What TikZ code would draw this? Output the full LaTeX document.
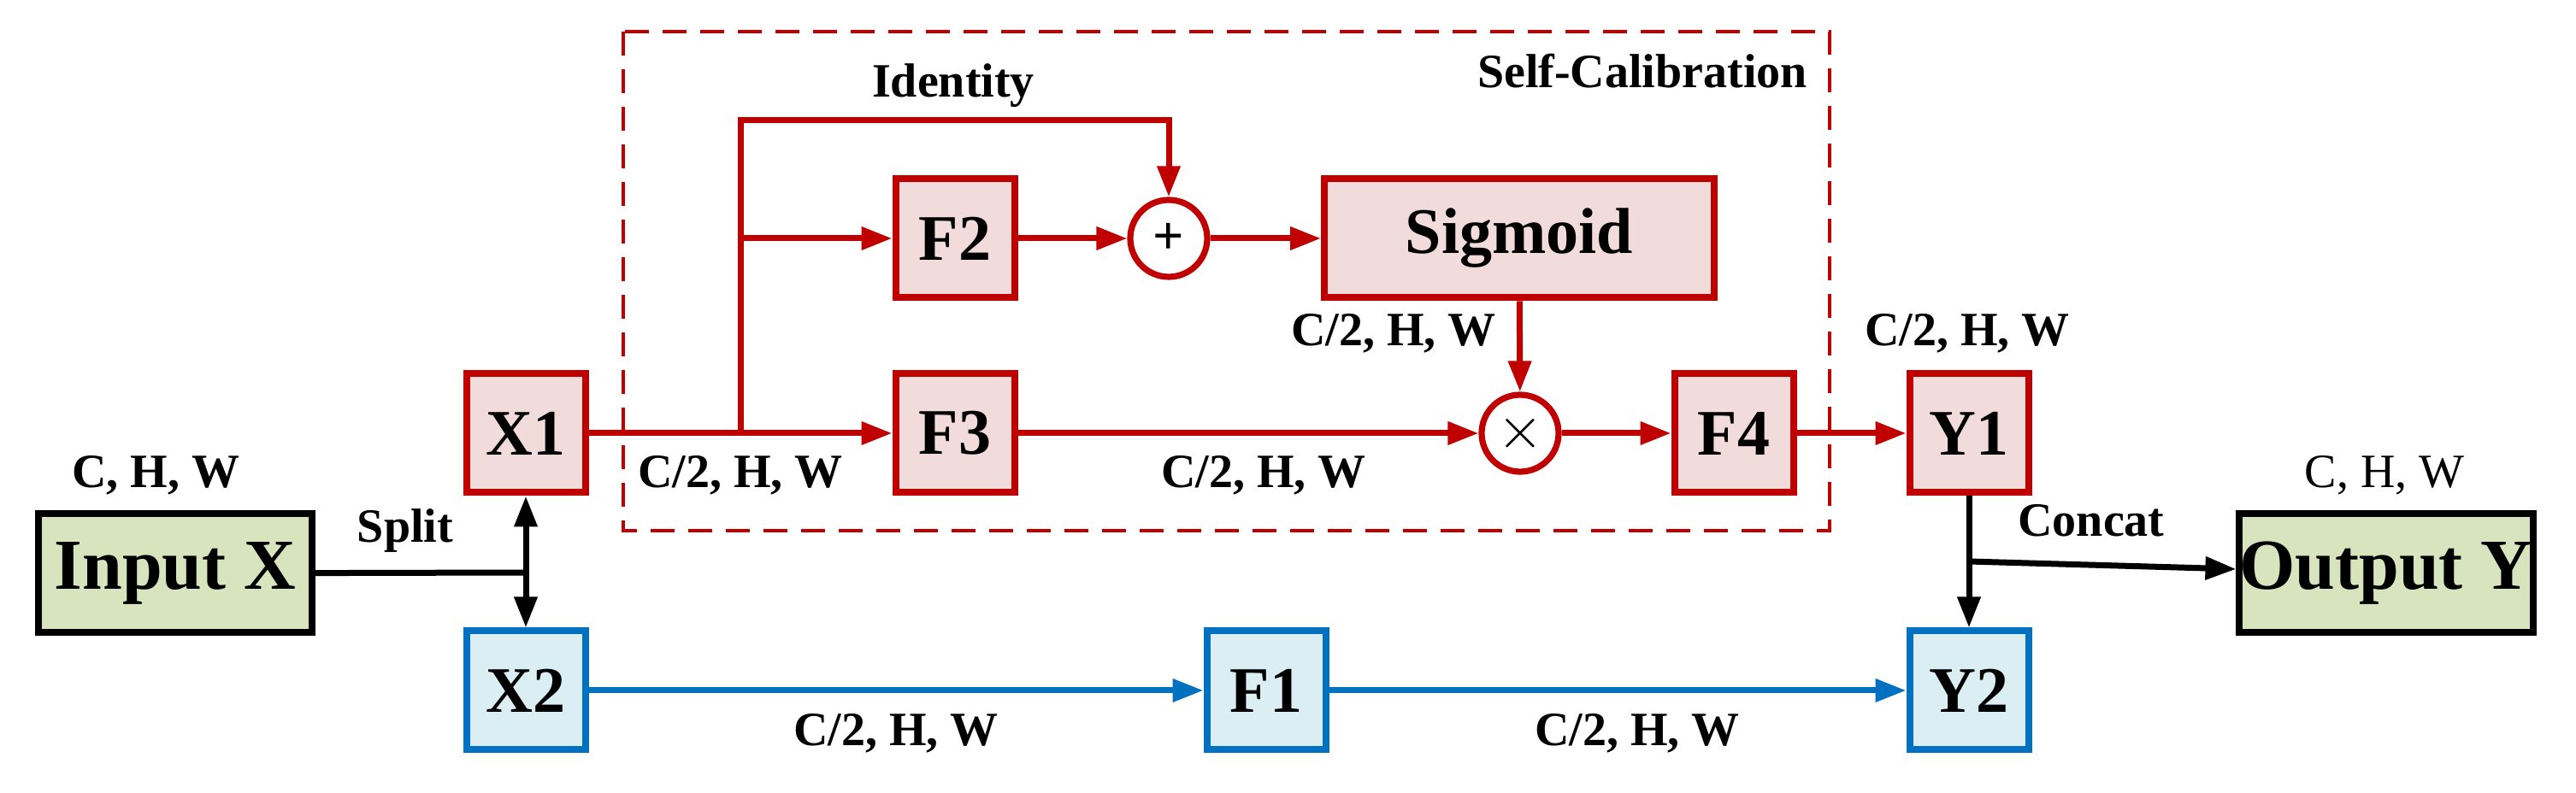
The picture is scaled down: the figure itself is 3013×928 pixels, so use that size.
\documentclass[tikz,border=0pt]{standalone}
\usepackage{fontspec}
\setmainfont{Liberation Serif}
\usetikzlibrary{arrows.meta}
\begin{document}
\begin{tikzpicture}[x=0.25pt, y=-0.25pt,
    box/.style={draw, line width=2pt, minimum width=34.75pt, minimum height=34.75pt, inner sep=0pt, font=\fontsize{19}{19}\selectfont\bfseries},
    redbox/.style={box, draw=cred, fill=cpink},
    bluebox/.style={box, draw=cblue, fill=clblue},
    greenbox/.style={box, draw=black, fill=cgreen, minimum width=80pt, font=\fontsize{21}{21}\selectfont\bfseries},
    op/.style={circle, draw=cred, fill=white, line width=1.8pt, minimum size=22.5pt, inner sep=0pt, font=\fontsize{16}{16}\selectfont\bfseries},
    lbl/.style={font=\fontsize{14}{14}\selectfont\bfseries},
    arr/.style={line width=1.75pt, -{Triangle[length=9pt,width=6.5pt]}},
    ln/.style={line width=1.75pt}]
    % Paleta de cores
    \definecolor{cred}{HTML}{C00000}
    \definecolor{cpink}{HTML}{F2DCDB}
    \definecolor{cblue}{HTML}{0070C0}
    \definecolor{clblue}{HTML}{DAEEF3}
    \definecolor{cgreen}{HTML}{D7E4BD}

    \useasboundingbox (0,0) rectangle (3013,928);

    % Caixa tracejada
    \draw[cred, dashed, line width=1.2pt, dash pattern=on 7pt off 4pt] (729,37) rectangle (2140,621);
    \node[lbl, anchor=east] at (2128,83) {Self-Calibration};

    % Blocos
    \node[greenbox] (inp) at (205,671) {Input X};
    \node[greenbox] (out) at (2791,671) {Output Y};
    \node[redbox] (x1) at (615,507) {X1};
    \node[bluebox] (x2) at (615,808) {X2};
    \node[redbox] (f2) at (1117,279) {F2};
    \node[redbox] (f3) at (1117,507) {F3};
    \node[op] (plus) at (1367,279) {+};
    \node[redbox, minimum width=114pt] (sig) at (1777,279) {Sigmoid};
    \node[op] (times) at (1778,507) {$\times$};
    \node[redbox] (f4) at (2028,507) {F4};
    \node[redbox] (y1) at (2303,507) {Y1};
    \node[bluebox] (y2) at (2303,808) {Y2};
    \node[bluebox] (f1) at (1481,808) {F1};

    % Pontos auxiliares
    \coordinate (split) at (615,670);
    \coordinate (br) at (866,507);
    \coordinate (brmid) at (866,279);
    \coordinate (cat) at (2303,657);

    % Ligacoes pretas
    \draw[ln] (inp) -- (split);
    \draw[arr] (split) -- (x1);
    \draw[arr] (split) -- (x2);
    \draw[ln] (y1) -- (cat);
    \draw[arr] (cat) -- (y2);
    \draw[arr] (cat) -- (out);

    % Ligacoes vermelhas
    \begin{scope}[cred]
        \draw[arr] (x1) -- (f3);
        \draw[arr] (br) -- (866,141) -| (plus);
        \draw[arr] (brmid) -- (f2);
        \draw[arr] (f2) -- (plus);
        \draw[arr] (plus) -- (sig);
        \draw[arr] (sig) -- (times);
        \draw[arr] (f3) -- (times);
        \draw[arr] (times) -- (f4);
        \draw[arr] (f4) -- (y1);
    \end{scope}

    % Ligacoes azuis
    \draw[arr, cblue] (x2) -- (f1);
    \draw[arr, cblue] (f1) -- (y2);

    % Rotulos
    \node[lbl] at (182,556) {C, H, W};
    \node[lbl] at (474,621) {Split};
    \node[lbl] at (1115,100) {Identity};
    \node[lbl] at (866,556) {C/2, H, W};
    \node[lbl] at (1478,556) {C/2, H, W};
    \node[lbl] at (1630,390) {C/2, H, W};
    \node[lbl] at (2301,390) {C/2, H, W};
    \node[lbl] at (2446,609) {Concat};
    \node[font=\fontsize{14}{14}\selectfont] at (2789,556) {C, H, W};
    \node[lbl] at (1048,858) {C/2, H, W};
    \node[lbl] at (1915,858) {C/2, H, W};
\end{tikzpicture}
\end{document}
